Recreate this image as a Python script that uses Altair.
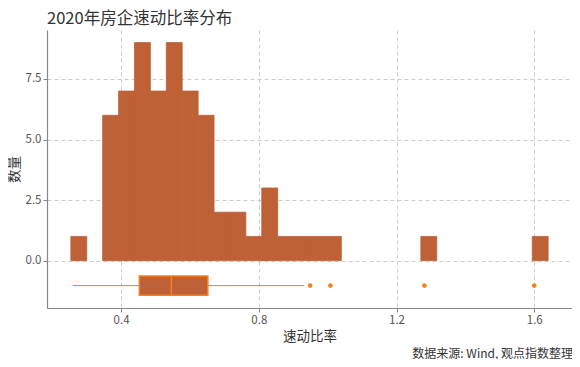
import altair as alt
import pandas as pd

# Histogram (ggplot-style 30 bins)
bin_starts = [0.2541, 0.3465, 0.3927, 0.4389, 0.4851, 0.5313, 0.5776, 0.6238, 0.6700,
              0.7162, 0.7624, 0.8086, 0.8548, 0.9010, 0.9472, 0.9935, 1.2707, 1.5942]
counts = [1, 6, 7, 9, 7, 9, 7, 6, 2, 2, 1, 3, 1, 1, 1, 1, 1, 1]
bin_width = 0.0462

# Boxplot statistics
box_low, box_q1, box_median, box_q3, box_high = 0.2595, 0.453, 0.546, 0.652, 0.932
outliers = [0.949, 1.008, 1.281, 1.600]
box_center, box_top, box_bottom = -1.03, -0.63, -1.43

x_ticks = [0.4, 0.8, 1.2, 1.6]
y_ticks = [0.0, 2.5, 5.0, 7.5]

FONT = "Noto Sans CJK SC"
BAR = "#BE6137"
ORANGE = "#F7801E"

hist = pd.DataFrame({"start": bin_starts, "count": counts})
hist["end"] = hist["start"] + bin_width
box = pd.DataFrame({"low": [box_low], "q1": [box_q1], "med": [box_median], "q3": [box_q3],
                    "high": [box_high], "yc": [box_center], "yt": [box_top], "yb": [box_bottom]})
outl = pd.DataFrame({"v": outliers, "yc": [box_center] * len(outliers)})

xs = alt.Scale(domain=[0.1848, 1.7097], nice=False, zero=False)
ys = alt.Scale(domain=[-1.955, 9.52], nice=False, zero=False)

xaxis = alt.Axis(values=x_ticks, format=".1f", title="速动比率", grid=True)
yaxis = alt.Axis(values=y_ticks, format=".1f", title="数量", grid=True)

bars = alt.Chart(hist).mark_bar(color=BAR, stroke=BAR, strokeWidth=0.8).encode(
    x=alt.X("start:Q", scale=xs, axis=xaxis),
    x2="end:Q",
    y=alt.Y("count:Q", scale=ys, axis=yaxis),
    y2=alt.datum(0),
)

whisker = alt.Chart(box).mark_rule(color=ORANGE, strokeWidth=1).encode(
    x="low:Q", x2="high:Q", y="yc:Q"
)
boxrect = alt.Chart(box).mark_bar(color=BAR, stroke=ORANGE, strokeWidth=1.5).encode(
    x="q1:Q", x2="q3:Q", y="yt:Q", y2="yb:Q"
)
median = alt.Chart(box).mark_rule(color=ORANGE, strokeWidth=1.5).encode(
    x="med:Q", y="yt:Q", y2="yb:Q"
)
pts = alt.Chart(outl).mark_circle(color=ORANGE, size=22, opacity=1).encode(
    x="v:Q", y="yc:Q"
)

caption = alt.Chart(pd.DataFrame({"t": ["数据来源: Wind, 观点指数整理"]})).mark_text(
    align="right", baseline="middle", font=FONT, fontSize=12, color="#333333"
).encode(text="t:N", x=alt.value(526), y=alt.value(324))

chart = alt.layer(bars, whisker, boxrect, median, pts, caption).properties(
    width=525, height=278,
    autosize=alt.AutoSizeParams(type="none"),
    padding={"left": 39, "top": 22, "right": 0, "bottom": 51},
    title=alt.TitleParams("2020年房企速动比率分布", anchor="start", frame="group", font=FONT,
                          fontSize=16.5, fontWeight="normal", color="#333333", offset=3),
).configure_view(stroke=None).configure_axis(
    domainColor="#888888", domainWidth=1.2, tickColor="#888888", tickSize=4,
    gridColor="#cccccc", gridDash=[4, 3], gridWidth=1,
    labelFont=FONT, labelFontSize=11.5, labelColor="#555555", labelPadding=2,
    titleFont=FONT, titleFontSize=13.5, titleFontWeight="normal", titleColor="#333333",
).configure_axisY(titlePadding=4).configure_axisX(titlePadding=4)

chart.save("out.html", embed_options={"renderer": "svg", "actions": False})
